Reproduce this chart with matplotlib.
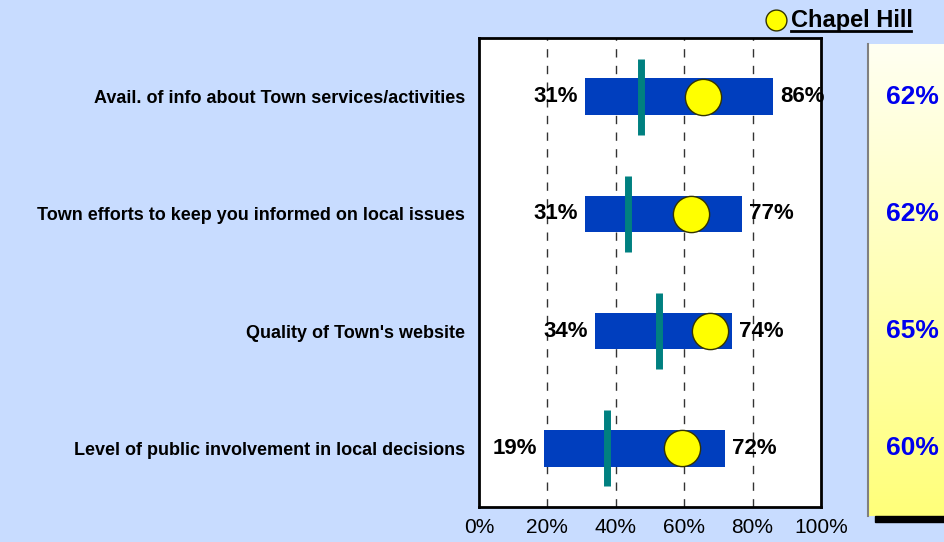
import numpy as np
import matplotlib
matplotlib.use("Agg")
import matplotlib.pyplot as plt
import matplotlib.transforms as mtransforms
from matplotlib.patches import Rectangle
from matplotlib.lines import Line2D

plt.rcParams['font.family'] = ['Liberation Sans', 'DejaVu Sans']

# data (top row first)
categories = ["Avail. of info about Town services/activities",
              "Town efforts to keep you informed on local issues",
              "Quality of Town's website",
              "Level of public involvement in local decisions"]
low = [31, 31, 34, 19]
high = [86, 77, 74, 72]
average = [47.5, 43.5, 52.5, 37.5]   # teal line
chapel_hill = [65.5, 62, 67.5, 59.5]  # yellow circle
panel_values = ["62%", "62%", "65%", "60%"]
xticks = [0, 20, 40, 60, 80, 100]
xtick_labels = ["0%", "20%", "40%", "60%", "80%", "100%"]

bg = '#C8DCFF'
W, H = 945, 542
fig = plt.figure(figsize=(W / 100, H / 100), dpi=100, facecolor=bg)

def fx(px):
    return px / W

def fy(py):
    return 1 - py / H

ax = fig.add_axes([fx(479), fy(507), fx(821) - fx(479), fy(38) - fy(507)])
ax.set_facecolor('white')

ypos = np.arange(len(categories))
ax.set_xlim(0, 100)
ax.set_ylim(len(categories) - 0.5, -0.5)

for g in [20, 40, 60, 80]:
    ax.axvline(g, color='#333333', lw=1, ls=(0, (6, 6)), zorder=1)

ax.barh(ypos, [h - l for h, l in zip(high, low)], left=low, height=0.31,
        color='#003EBE', zorder=2)
ax.vlines(average, ypos - 0.325, ypos + 0.325, color='#008080', lw=5, zorder=3)
ax.scatter(chapel_hill, ypos, s=680, color='#FFFF00', edgecolor='#333300',
           lw=1, zorder=4)

for y, l, h in zip(ypos, low, high):
    ax.annotate(f"{l}%", (l, y), xytext=(-5, 0), textcoords='offset points',
                ha='right', va='center', fontsize=16, fontweight='bold', zorder=5)
    ax.annotate(f"{h}%", (h, y), xytext=(5, 0), textcoords='offset points',
                ha='left', va='center', fontsize=16, fontweight='bold', zorder=5)

ax.set_xticks(xticks)
ax.set_xticklabels(xtick_labels, fontsize=15)
ax.set_yticks(ypos)
ax.set_yticklabels(categories, fontsize=13, fontweight='bold')
ax.tick_params(axis='both', length=0)
ax.tick_params(axis='y', pad=10)
ax.tick_params(axis='x', pad=8)
for sp in ax.spines.values():
    sp.set_linewidth(2)
    sp.set_color('black')

# shaded panel on the right
fig.patches.append(Rectangle((fx(875), fy(522)), fx(960) - fx(875), fy(516) - fy(522),
                             transform=fig.transFigure, color='black', zorder=0))
pax = fig.add_axes([fx(868), fy(516), fx(960) - fx(868), fy(44) - fy(516)])
grad = np.linspace(0, 1, 256).reshape(-1, 1)
cmap = matplotlib.colors.LinearSegmentedColormap.from_list('py', ['#FFFFF2', '#FFFF7A'])
pax.imshow(grad, aspect='auto', cmap=cmap, extent=[0, 1, 1, 0])
pax.set_xticks([])
pax.set_yticks([])
for sp in pax.spines.values():
    sp.set_visible(False)
pax.spines['left'].set_visible(True)
pax.spines['left'].set_color('#808080')
pax.spines['left'].set_linewidth(1.5)

trans = mtransforms.blended_transform_factory(fig.transFigure, ax.transData)
for y, v in zip(ypos, panel_values):
    fig.text(fx(912), y, v, transform=trans, ha='center', va='center',
             fontsize=19, fontweight='bold', color='#0000EE')

# legend
fig.lines.append(Line2D([fx(776)], [fy(20)], marker='o', markersize=15,
                        markerfacecolor='#FFFF00', markeredgecolor='#333300',
                        transform=fig.transFigure))
fig.text(fx(791), fy(20), "Chapel Hill", ha='left', va='center', fontsize=17,
         fontweight='bold')
fig.lines.append(Line2D([fx(791), fx(911)], [fy(31), fy(31)], color='black', lw=2,
                        transform=fig.transFigure))

fig.savefig('out.png', dpi=100, facecolor=bg)
